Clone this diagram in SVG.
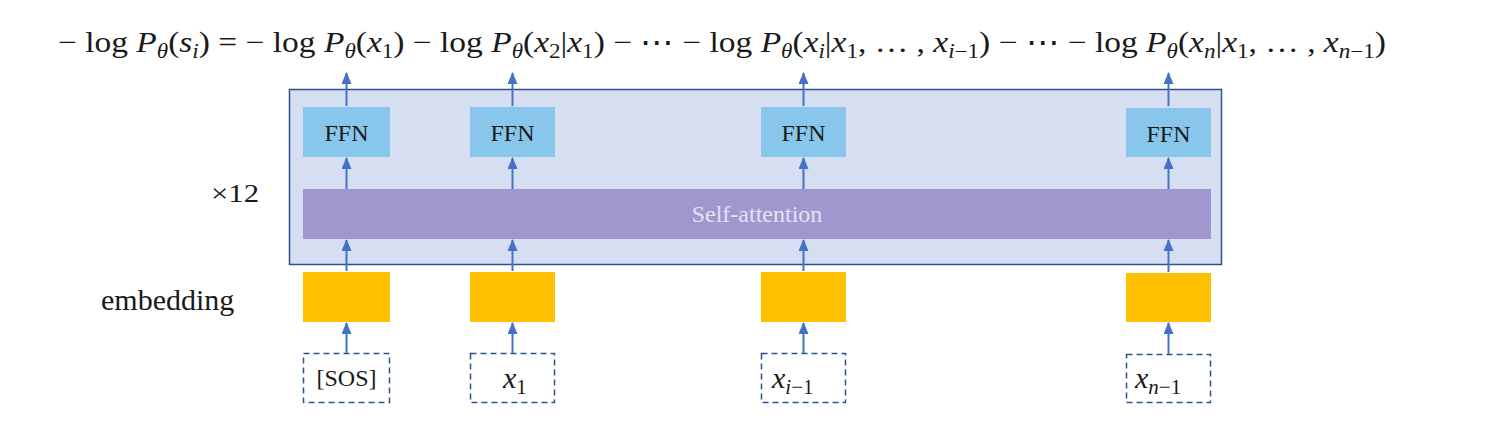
<svg xmlns="http://www.w3.org/2000/svg" width="1495" height="425" viewBox="0 0 1495 425">
<defs>
<marker id="ah" markerWidth="12" markerHeight="10" refX="11" refY="5" orient="auto" markerUnits="userSpaceOnUse" viewBox="0 0 12 10">
<path d="M0,0 L12,5 L0,10 Z" fill="#4472C4"/>
</marker>
<style>
.ffn{fill:#89C6EC}
.emb{fill:#FFC000}
.tok{fill:#fff;stroke:#2F528F;stroke-width:1.5;stroke-dasharray:6,4}
.lbl{font-family:"Liberation Serif","DejaVu Serif",serif;fill:#1a1a1a}
.mi{font-style:italic}
.arr{stroke:#4472C4;stroke-width:2;fill:none;marker-end:url(#ah)}
</style>
</defs>
<rect width="1495" height="425" fill="#fff"/>
<g id="equation">
<text class="lbl" x="58" y="52" font-size="29" textLength="1328" lengthAdjust="spacingAndGlyphs">− log <tspan class="mi">P</tspan><tspan class="mi" font-size="20" dy="6">θ</tspan><tspan dy="-6">(</tspan><tspan class="mi">s</tspan><tspan class="mi" font-size="20" dy="6">i</tspan><tspan dy="-6">) = − log </tspan><tspan class="mi">P</tspan><tspan class="mi" font-size="20" dy="6">θ</tspan><tspan dy="-6">(</tspan><tspan class="mi">x</tspan><tspan font-size="20" dy="6">1</tspan><tspan dy="-6">) − log </tspan><tspan class="mi">P</tspan><tspan class="mi" font-size="20" dy="6">θ</tspan><tspan dy="-6">(</tspan><tspan class="mi">x</tspan><tspan font-size="20" dy="6">2</tspan><tspan dy="-6">|</tspan><tspan class="mi">x</tspan><tspan font-size="20" dy="6">1</tspan><tspan dy="-6">) − ⋯ − log </tspan><tspan class="mi">P</tspan><tspan class="mi" font-size="20" dy="6">θ</tspan><tspan dy="-6">(</tspan><tspan class="mi">x</tspan><tspan class="mi" font-size="20" dy="6">i</tspan><tspan dy="-6">|</tspan><tspan class="mi">x</tspan><tspan font-size="20" dy="6">1</tspan><tspan dy="-6">, … , </tspan><tspan class="mi">x</tspan><tspan font-size="20" dy="6"><tspan class="mi">i</tspan>−1</tspan><tspan dy="-6">) − ⋯ − log </tspan><tspan class="mi">P</tspan><tspan class="mi" font-size="20" dy="6">θ</tspan><tspan dy="-6">(</tspan><tspan class="mi">x</tspan><tspan class="mi" font-size="20" dy="6">n</tspan><tspan dy="-6">|</tspan><tspan class="mi">x</tspan><tspan font-size="20" dy="6">1</tspan><tspan dy="-6">, … , </tspan><tspan class="mi">x</tspan><tspan font-size="20" dy="6"><tspan class="mi">n</tspan>−1</tspan><tspan dy="-6">)</tspan></text>
</g>
<g id="labels">
<text class="lbl" x="211" y="202" font-size="26" font-family="Liberation Sans" textLength="48" lengthAdjust="spacingAndGlyphs">×12</text>
<text class="lbl" x="101" y="310" font-size="30">embedding</text>
</g>
<g id="layer">
<rect x="289.5" y="89.5" width="932" height="175" fill="#D6DEF1" stroke="#2F528F" stroke-width="1.5"/>
</g>
<g id="self-attention">
<rect x="303" y="189" width="908" height="50" fill="#A197CF"/>
<text x="757" y="222" font-size="24" text-anchor="middle" font-family="Liberation Serif,serif" fill="#E4E2F4">Self-attention</text>
</g>
<g id="ffn1"><rect class="ffn" x="303" y="107" width="87" height="50"/><text class="lbl" x="346.5" y="141" font-size="24" text-anchor="middle">FFN</text></g>
<g id="ffn2"><rect class="ffn" x="470" y="107" width="85" height="50"/><text class="lbl" x="512.5" y="141" font-size="24" text-anchor="middle">FFN</text></g>
<g id="ffn3"><rect class="ffn" x="761" y="107" width="85" height="50"/><text class="lbl" x="803.5" y="141" font-size="24" text-anchor="middle">FFN</text></g>
<g id="ffn4"><rect class="ffn" x="1126" y="108" width="85" height="49"/><text class="lbl" x="1168.5" y="142" font-size="24" text-anchor="middle">FFN</text></g>
<g id="emb1"><rect class="emb" x="303" y="272" width="87" height="50"/></g>
<g id="emb2"><rect class="emb" x="470" y="272" width="85" height="50"/></g>
<g id="emb3"><rect class="emb" x="761" y="272" width="85" height="50"/></g>
<g id="emb4"><rect class="emb" x="1126" y="273" width="85" height="49"/></g>
<g id="tok1"><rect class="tok" x="303.5" y="353.5" width="86" height="49"/><text class="lbl" x="346.5" y="386" font-size="24" text-anchor="middle">[SOS]</text></g>
<g id="tok2"><rect class="tok" x="470.5" y="353.5" width="84" height="49"/><text class="lbl" x="503" y="388" font-size="30"><tspan class="mi">x</tspan><tspan font-size="21" dy="6">1</tspan></text></g>
<g id="tok3"><rect class="tok" x="761.5" y="353.5" width="84" height="49"/><text class="lbl" x="772" y="388" font-size="30"><tspan class="mi">x</tspan><tspan font-size="21" dy="6"><tspan class="mi">i</tspan>−1</tspan></text></g>
<g id="tok4"><rect class="tok" x="1126.5" y="354.5" width="84" height="48"/><text class="lbl" x="1135" y="388" font-size="30"><tspan class="mi">x</tspan><tspan font-size="21" dy="6"><tspan class="mi">n</tspan>−1</tspan></text></g>
<g id="connectors">
<line class="arr" x1="346.5" y1="353" x2="346.5" y2="323"/>
<line class="arr" x1="512.5" y1="353" x2="512.5" y2="323"/>
<line class="arr" x1="803.5" y1="353" x2="803.5" y2="323"/>
<line class="arr" x1="1168.5" y1="354" x2="1168.5" y2="323"/>
<line class="arr" x1="346.5" y1="271" x2="346.5" y2="240"/>
<line class="arr" x1="512.5" y1="271" x2="512.5" y2="240"/>
<line class="arr" x1="803.5" y1="271" x2="803.5" y2="240"/>
<line class="arr" x1="1168.5" y1="272" x2="1168.5" y2="240"/>
<line class="arr" x1="346.5" y1="189" x2="346.5" y2="158"/>
<line class="arr" x1="512.5" y1="189" x2="512.5" y2="158"/>
<line class="arr" x1="803.5" y1="189" x2="803.5" y2="158"/>
<line class="arr" x1="1168.5" y1="189" x2="1168.5" y2="158"/>
<line class="arr" x1="346.5" y1="106" x2="346.5" y2="73"/>
<line class="arr" x1="512.5" y1="106" x2="512.5" y2="73"/>
<line class="arr" x1="803.5" y1="106" x2="803.5" y2="73"/>
<line class="arr" x1="1168.5" y1="106" x2="1168.5" y2="73"/>
</g>
</svg>
